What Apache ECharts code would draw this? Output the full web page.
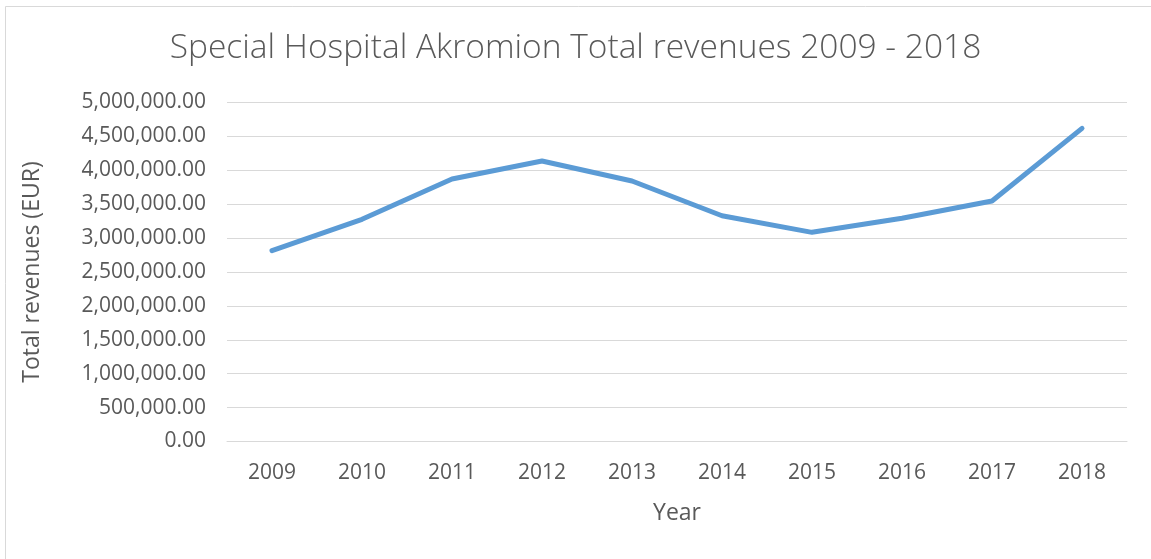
<!DOCTYPE html>
<html>
<head>
<meta charset="utf-8">
<script src="https://cdn.jsdelivr.net/npm/echarts@6/dist/echarts.min.js"></script>
<style>
html,body{margin:0;padding:0;background:#fff;}
#chart{width:1151px;height:559px;}
</style>
</head>
<body>
<div id="chart"></div>
<script>
const years = ['2009','2010','2011','2012','2013','2014','2015','2016','2017','2018'];
const revenues = [2814000, 3277000, 3872000, 4137000, 3842000, 3330000, 3085000, 3292000, 3547000, 4619000];
const titleText = 'Special Hospital Akromion Total revenues 2009 - 2018';
const yAxisName = 'Total revenues (EUR)';
const xAxisName = 'Year';

const FONT = '"Open Sans", "Noto Sans", sans-serif';
const chart = echarts.init(document.getElementById('chart'), null, {renderer: 'canvas'});
chart.setOption({
  animation: false,
  backgroundColor: '#ffffff',
  graphic: [{
    type: 'rect', left: 3, top: 4, silent: true,
    shape: {width: 1170, height: 580},
    style: {fill: 'none', stroke: '#d9d9d9', lineWidth: 1}
  }],
  title: {
    text: titleText, left: 'center', top: 26,
    textStyle: {fontFamily: FONT, fontWeight: 300, fontSize: 33.5, color: '#595959'}
  },
  grid: {left: 227, right: 24, top: 102.5, bottom: 117.5, containLabel: false},
  xAxis: {
    type: 'category', data: years, boundaryGap: true,
    name: xAxisName, nameLocation: 'middle', nameGap: 60,
    nameTextStyle: {fontFamily: FONT, fontSize: 23, color: '#595959'},
    axisLine: {show: true, lineStyle: {color: '#d9d9d9', width: 1}},
    axisTick: {show: false},
    axisLabel: {fontFamily: FONT, fontSize: 21, color: '#595959', margin: 21}
  },
  yAxis: {
    type: 'value', min: 0, max: 5000000, interval: 500000,
    name: yAxisName, nameLocation: 'middle', nameGap: 183, nameRotate: 90,
    nameTextStyle: {fontFamily: FONT, fontSize: 23, color: '#595959'},
    axisLine: {show: false}, axisTick: {show: false},
    splitLine: {lineStyle: {color: '#d9d9d9', width: 1}},
    axisLabel: {
      fontFamily: FONT, fontSize: 21, color: '#595959', margin: 21,
      formatter: v => v.toLocaleString('en-US', {minimumFractionDigits: 2, maximumFractionDigits: 2})
    }
  },
  series: [{
    type: 'line', data: revenues, symbol: 'none', smooth: false,
    lineStyle: {color: '#5b9bd5', width: 5, cap: 'round', join: 'round'}
  }]
});
</script>
</body>
</html>
